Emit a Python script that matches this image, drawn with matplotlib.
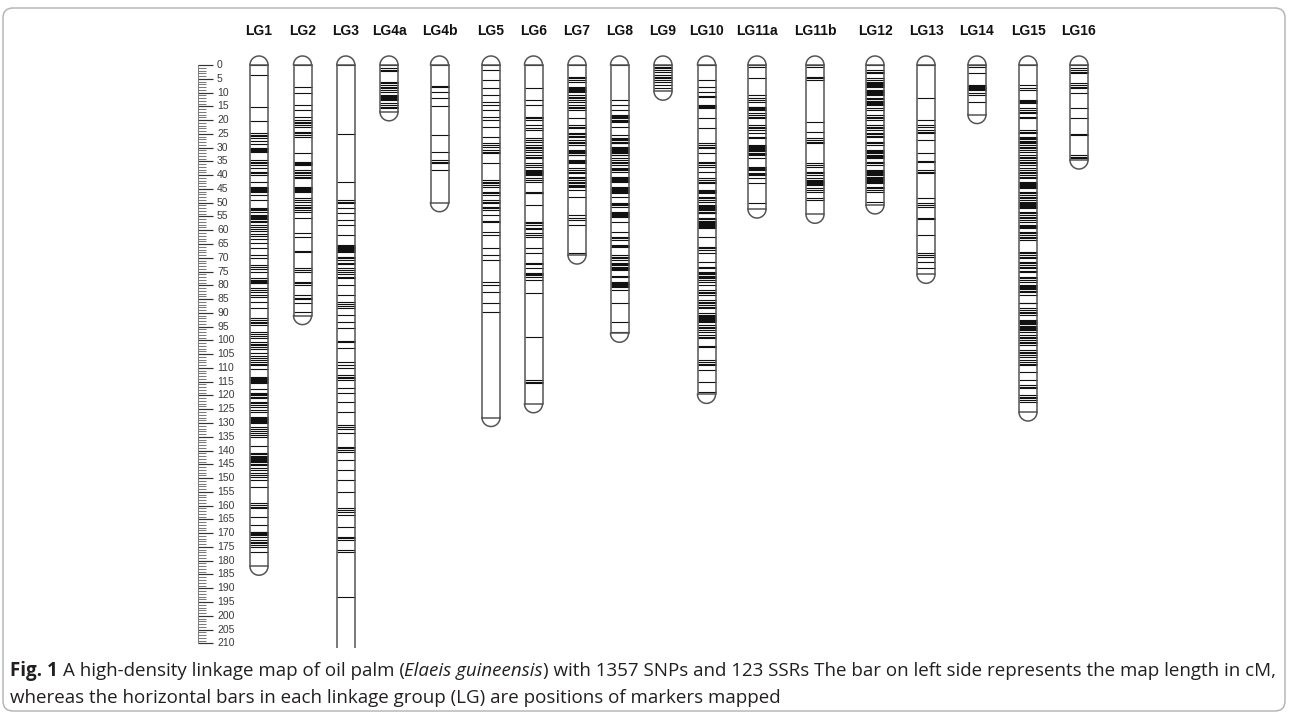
import matplotlib
matplotlib.use("Agg")
import matplotlib.pyplot as plt
import numpy as np
from matplotlib.patches import FancyBboxPatch
from matplotlib.transforms import IdentityTransform

# ---------------- data ----------------
lg_names = ["LG1", "LG2", "LG3", "LG4a", "LG4b", "LG5", "LG6", "LG7", "LG8", "LG9",
            "LG10", "LG11a", "LG11b", "LG12", "LG13", "LG14", "LG15", "LG16"]
# map lengths in cM (LG3 runs past the bottom of the panel)
lg_lengths = [182, 91, 215, 17, 50, 128, 123, 69, 97.4, 9.5,
              119.6, 52.3, 54.2, 50.8, 76, 18, 126, 34.5]

lg1 = [0, 3.6, 15.4, 20.2, 24.8, 25.3, 25.9, 26.6, 27.5, 28.6, 30.3, 30.6, 30.9, 31.2, 31.5,
       34.5, 35.1, 35.7, 36.3, 37.5, 38.7, 39.3, 40.0, 42.4, 44.2, 44.5, 44.8, 45.1, 45.4,
       45.7, 46.0, 47.2, 49.0, 52.0, 52.4, 52.8, 53.2, 54.5, 54.9, 55.3, 55.7, 56.1, 56.5,
       56.9, 58.0, 58.8, 59.6, 60.4, 61.2, 62.0, 63.0, 64.8, 66.6, 69.0, 70.2, 72.6, 73.4,
       74.2, 75.0, 77.5, 77.9, 78.3, 78.7, 79.0, 79.3, 81.0, 81.8, 82.6, 83.5, 84.2, 86.0,
       88.4, 92.0, 92.6, 93.2, 93.8, 94.4, 96.8, 97.6, 98.4, 99.2, 100.5, 101.2, 101.8,
       102.4, 103.0, 104.7, 105.5, 106.3, 107.0, 107.8, 108.5, 109.0, 110.5, 113.2, 113.6,
       114.0, 114.4, 114.8, 115.2, 115.6, 117.5, 119.2, 119.6, 120.0, 120.5, 121.0, 122.2,
       122.9, 123.6, 124.3, 125.1, 125.9, 127.7, 128.1, 128.5, 128.9, 129.3, 129.7, 130.1,
       131.3, 132.0, 132.8, 133.6, 134.3, 135.0, 138.5, 141.0, 141.4, 141.8, 142.2, 142.6,
       143.0, 143.4, 143.8, 144.2, 144.7, 145.2, 146.4, 147.2, 148.0, 148.8, 149.5, 150.7,
       153.1, 159.2, 159.8, 160.4, 161.0, 164.0, 167.0, 169.4, 169.7, 170.0, 170.4, 170.8,
       171.3, 172.5, 173.1, 173.7, 174.3, 174.9, 176.7]
lg2 = [0, 7.9, 10.3, 14.5, 16.3, 18.8, 20.0, 20.6, 21.2, 21.8, 22.4, 24.2, 24.8, 25.4, 26.0,
       32.0, 35.1, 35.5, 35.9, 36.3, 38.1, 38.7, 39.3, 40.0, 40.6, 41.2, 44.2, 44.5, 44.8,
       45.1, 45.4, 45.7, 46.0, 48.4, 49.0, 49.6, 50.8, 51.4, 52.0, 52.6, 53.3, 55.7, 61.1,
       62.3, 67.6, 67.9, 73.8, 74.4, 75.0, 78.7, 79.3, 79.9, 83.5, 84.5, 84.9, 86.5, 89.6]
lg3 = [0, 25.0, 42.4, 49.0, 49.6, 50.2, 52.0, 53.9, 56.3, 58.0, 61.7, 65.4, 65.7, 66.0, 66.3,
       66.6, 66.9, 67.2, 67.5, 67.8, 69.6, 70.2, 70.8, 72.0, 72.2, 73.8, 74.5, 75.2, 76.0,
       76.8, 77.5, 79.9, 83.5, 86.0, 86.8, 87.6, 88.4, 90.8, 93.2, 95.6, 100.3, 100.6, 102.9,
       107.7, 109.0, 110.0, 112.6, 113.2, 113.8, 114.4, 117.4, 119.2, 122.2, 125.9, 130.7,
       131.3, 132.0, 133.7, 138.6, 139.2, 139.8, 140.4, 143.4, 147.0, 150.7, 154.9, 161.0,
       161.6, 162.2, 163.4, 167.6, 171.3, 171.9, 172.5, 176.1, 176.7, 193.1]
lg4a = [0, 1.2, 1.7, 2.2, 6.0, 6.6, 7.3, 7.9, 8.5, 9.1, 9.7, 10.9, 11.2, 11.5, 11.8, 12.1,
        12.4, 12.7, 13.9, 14.5, 15.1, 15.7]
lg4b = [0, 7.5, 7.9, 9.7, 12.1, 14.8, 25.4, 31.5, 34.5, 35.1, 35.7, 38.1]
lg5 = [0, 1.8, 5.4, 8.5, 10.9, 13.3, 14.5, 16.3, 18.8, 20.0, 22.4, 26.0, 28.4, 29.0, 29.6,
       30.9, 31.5, 32.0, 35.7, 41.8, 42.4, 43.0, 43.6, 44.2, 46.0, 46.6, 47.2, 49.0, 49.6,
       50.2, 51.4, 52.0, 52.6, 54.5, 56.8, 57.0, 60.5, 61.7, 66.6, 69.0, 70.8, 78.7, 79.9,
       82.3, 86.5, 89.6]
lg6 = [0, 8.5, 12.7, 14.5, 18.8, 19.4, 20.0, 21.8, 22.7, 23.6, 26.6, 27.2, 27.8, 29.0, 29.6,
       30.3, 30.9, 31.5, 32.7, 33.3, 33.9, 35.7, 36.3, 36.9, 38.1, 38.5, 38.9, 39.3, 39.7,
       40.0, 41.2, 41.8, 42.4, 46.0, 46.3, 46.6, 50.8, 56.9, 57.5, 58.1, 59.1, 59.4, 61.1,
       61.7, 62.3, 66.6, 68.4, 71.8, 72.1, 73.8, 75.6, 76.0, 76.4, 76.8, 78.1, 82.9, 98.6,
       114.4, 115.0, 115.6]
lg7 = [0, 4.2, 4.8, 5.4, 6.0, 7.9, 8.3, 8.7, 9.1, 9.5, 9.7, 10.9, 11.5, 12.1, 12.7, 13.3,
       14.5, 15.1, 15.7, 16.3, 19.4, 21.8, 22.4, 23.0, 24.8, 25.2, 25.6, 26.0, 27.2, 27.8,
       28.4, 29.0, 30.9, 31.3, 31.7, 32.1, 32.5, 32.7, 34.5, 34.9, 35.3, 35.7, 37.5, 38.1,
       38.7, 39.3, 40.5, 41.1, 41.7, 42.4, 43.0, 43.4, 43.8, 44.2, 45.4, 47.8, 54.5, 55.4,
       56.3, 58.1, 68.4]
lg8 = [0, 12.7, 14.5, 16.3, 18.2, 18.6, 19.0, 19.4, 19.8, 20.2, 20.6, 22.4, 25.4, 26.6, 27.0,
       27.4, 27.8, 28.2, 28.4, 29.7, 30.1, 30.5, 30.9, 31.3, 31.7, 32.1, 32.5, 32.7, 33.9,
       34.5, 35.1, 35.7, 36.3, 37.5, 37.9, 38.3, 38.7, 40.5, 40.9, 41.3, 41.7, 42.1, 42.4,
       44.2, 44.6, 45.0, 45.4, 45.8, 46.2, 46.6, 47.8, 50.2, 50.6, 51.0, 51.4, 53.3, 53.7,
       54.1, 54.5, 54.9, 55.1, 56.9, 60.5, 62.3, 62.9, 63.5, 65.4, 65.8, 66.0, 69.0, 69.6,
       70.2, 70.8, 72.0, 72.4, 72.8, 73.2, 73.6, 74.0, 74.4, 76.6, 76.9, 78.7, 79.1, 79.5,
       79.9, 80.3, 80.5, 81.7, 86.5, 93.2, 96.8]
lg9 = [0, 0.6, 1.2, 1.8, 2.4, 3.6, 4.2, 4.8, 5.4, 6.0, 7.3, 8.5]
lg10 = [0, 5.4, 7.9, 9.7, 11.3, 11.6, 14.5, 14.9, 15.3, 15.7, 19.4, 23.0, 28.4, 29.0, 29.6,
        30.3, 32.0, 35.1, 35.7, 36.3, 36.9, 38.7, 41.2, 41.8, 42.4, 43.0, 45.4, 45.8, 46.2,
        46.6, 47.8, 48.4, 49.0, 49.6, 50.8, 51.2, 51.6, 52.0, 52.4, 52.8, 53.2, 53.6, 53.9,
        55.7, 56.1, 56.5, 56.9, 57.3, 57.7, 58.1, 58.5, 58.7, 59.3, 62.3, 66.0, 66.6, 67.2,
        68.4, 71.4, 73.2, 73.8, 75.0, 75.5, 76.0, 76.5, 77.0, 77.5, 78.1, 78.7, 79.9, 81.7,
        82.3, 82.9, 83.5, 85.3, 85.9, 86.5, 87.1, 87.8, 88.4, 90.2, 90.6, 91.0, 91.4, 91.8,
        92.2, 92.6, 93.0, 93.2, 94.4, 95.0, 95.6, 96.2, 96.8, 98.0, 98.6, 99.2, 102.1, 102.5,
        107.1, 107.7, 108.4, 109.0, 110.8, 115.0, 118.6]
lg11a = [0, 0.6, 4.8, 10.9, 12.1, 12.7, 13.3, 15.1, 15.4, 15.7, 16.0, 16.3, 17.6, 18.2, 18.8,
         19.4, 21.8, 22.4, 23.0, 23.6, 24.8, 26.0, 26.6, 29.0, 29.4, 29.8, 30.2, 30.6, 31.0,
         31.4, 31.8, 32.2, 32.7, 33.9, 36.9, 37.3, 37.7, 38.1, 39.3, 39.7, 40.0, 41.2, 43.0,
         50.2]
lg11b = [0, 0.6, 4.2, 4.8, 5.4, 20.6, 24.2, 26.6, 27.2, 27.8, 28.4, 35.7, 36.3, 36.9, 38.7,
         39.3, 40.0, 41.2, 41.6, 42.0, 42.4, 42.8, 43.2, 43.6, 44.8, 45.4, 46.0, 48.4, 49.0]
lg12 = [0, 1.8, 2.4, 3.0, 4.8, 5.4, 6.0, 6.7, 7.0, 7.3, 7.6, 7.9, 9.1, 9.5, 9.9, 10.3, 10.7,
        10.9, 12.1, 12.5, 12.9, 13.3, 13.7, 14.1, 14.5, 15.7, 16.3, 18.2, 18.8, 19.4, 20.0,
        21.8, 22.4, 23.0, 23.6, 24.8, 25.2, 25.6, 26.0, 27.8, 28.4, 29.0, 30.9, 31.3, 31.7,
        32.1, 32.5, 32.9, 33.3, 33.9, 35.1, 35.7, 36.3, 38.1, 38.5, 38.9, 39.3, 39.7, 40.1,
        40.5, 40.9, 41.3, 41.7, 42.1, 42.5, 43.0, 44.2, 44.8, 45.4, 46.0, 49.6]
lg13 = [0, 12.1, 20.0, 21.8, 22.4, 23.6, 24.2, 24.8, 27.2, 32.0, 34.9, 35.2, 38.1, 38.7, 39.3,
        48.4, 50.2, 50.8, 51.4, 55.5, 55.8, 61.7, 68.4, 69.0, 69.6, 71.4, 73.8]
lg14 = [0, 0.6, 3.0, 7.3, 7.6, 7.9, 8.2, 8.5, 8.8, 9.1, 10.3, 10.9, 13.3]
lg15 = [0, 7.3, 8.5, 9.1, 12.7, 13.1, 13.5, 13.9, 15.7, 16.3, 17.0, 17.6, 18.8, 19.4, 23.6,
        24.2, 24.8, 26.0, 26.5, 27.0, 27.5, 28.0, 28.4, 29.0, 29.6, 30.3, 30.9, 31.5, 32.7,
        33.3, 33.9, 34.5, 35.1, 35.7, 36.3, 37.5, 38.1, 38.7, 39.3, 39.9, 40.5, 41.2, 42.4,
        42.8, 43.2, 43.6, 44.0, 44.4, 44.8, 46.0, 46.6, 47.2, 47.8, 48.4, 49.0, 49.6, 50.0,
        50.4, 50.8, 51.2, 51.6, 52.0, 53.3, 53.9, 54.5, 55.1, 55.7, 56.3, 56.9, 58.1, 58.5,
        58.9, 59.3, 60.5, 61.1, 61.7, 62.3, 62.9, 63.5, 67.8, 68.4, 69.0, 69.6, 70.2, 71.4,
        72.0, 72.6, 73.2, 73.8, 74.8, 75.1, 76.8, 77.4, 78.1, 78.7, 79.9, 80.3, 80.7, 81.1,
        81.5, 81.9, 82.3, 83.5, 86.3, 86.6, 88.4, 89.0, 89.6, 90.2, 90.8, 92.6, 93.0, 93.4,
        93.8, 94.2, 94.6, 95.0, 95.4, 95.8, 96.2, 96.8, 98.0, 98.6, 99.2, 99.8, 100.5, 101.1,
        101.7, 103.5, 104.1, 104.7, 105.3, 105.9, 107.1, 107.7, 108.4, 109.0, 111.4, 114.4,
        116.2, 116.8, 117.4, 119.8, 120.4, 121.0, 121.6, 122.2]
lg16 = [0, 1.2, 1.8, 2.4, 3.0, 6.7, 7.3, 7.9, 8.5, 10.3, 15.7, 19.4, 25.2, 25.5, 32.7, 33.3,
        33.9]

lg_markers = [lg1, lg2, lg3, lg4a, lg4b, lg5, lg6, lg7, lg8, lg9,
              lg10, lg11a, lg11b, lg12, lg13, lg14, lg15, lg16]

scale_max = 210
scale_step = 5

caption_bold = "Fig. 1"
caption_a = "A high-density linkage map of oil palm ("
caption_it = "Elaeis guineensis"
caption_b = ") with 1357 SNPs and 123 SSRs The bar on left side represents the map length in cM,"
caption_line2 = "whereas the horizontal bars in each linkage group (LG) are positions of markers mapped"

# ---------------- layout ----------------
W, H, DPI = 1290, 716, 100
lg_x = [259, 302.5, 345.8, 389, 439.5, 491, 533.5, 577, 619.5, 663,
        706.5, 757, 815, 875, 926, 977, 1028, 1079]
PX_PER_CM = 2.754
Y0_PX = 65.0            # pixel row of 0 cM
TOP_PX, BOT_PX = 40.0, 648.0
HALF_W = 9.0            # half chromosome width in px
CAP_R_CM = HALF_W / PX_PER_CM

fig = plt.figure(figsize=(W / DPI, H / DPI), dpi=DPI)
fig.patch.set_facecolor("white")
ax = fig.add_axes([0, 1 - BOT_PX / H, 1, (BOT_PX - TOP_PX) / H])
ax.set_xlim(0, W)
ax.set_ylim((BOT_PX - Y0_PX) / PX_PER_CM, (TOP_PX - Y0_PX) / PX_PER_CM)
ax.axis("off")

outline_c = "#555555"
mark_c = "#111111"
t = np.linspace(0, np.pi, 60)

for name, L, marks, cx in zip(lg_names, lg_lengths, lg_markers, lg_x):
    ax.hlines(marks, cx - HALF_W, cx + HALF_W, colors=mark_c, lw=0.8, zorder=2)
    ax.plot([cx - HALF_W, cx - HALF_W], [0, L], color=outline_c, lw=1.1, zorder=3)
    ax.plot([cx + HALF_W, cx + HALF_W], [0, L], color=outline_c, lw=1.1, zorder=3)
    ax.hlines([0, L], cx - HALF_W, cx + HALF_W, colors=outline_c, lw=1.1, zorder=3)
    ax.plot(cx + HALF_W * np.cos(t), -CAP_R_CM * np.sin(t), color=outline_c, lw=1.1, zorder=3)
    ax.plot(cx + HALF_W * np.cos(t), L + CAP_R_CM * np.sin(t), color=outline_c, lw=1.1, zorder=3)
    ax.text(cx, (31 - Y0_PX) / PX_PER_CM, name, ha="center", va="center",
            fontsize=10, fontweight="bold", family=["Liberation Sans", "DejaVu Sans"],
            color="#111111")

# ruler
ticks = np.arange(0, scale_max + 1, 1)
minor = ticks[ticks % scale_step != 0]
major = ticks[ticks % scale_step == 0]
ax.hlines(minor, 198, 206, colors="#7a7a7a", lw=0.75)
ax.hlines(major, 198, 213, colors="#333333", lw=0.85)
ax.plot([198, 198], [0, scale_max], color="#7a7a7a", lw=0.7)
for v in major:
    ax.text(217, v, str(v), ha="left", va="center", fontsize=7.5,
            family=["Liberation Sans", "DejaVu Sans"], color="#3a3a3a")

# frame
frame = FancyBboxPatch((3, 5), 1282, 703, boxstyle="round,pad=0,rounding_size=10",
                       transform=IdentityTransform(), fill=False, ec="#b0b0b0", lw=1.0)
fig.add_artist(frame)

# caption
fig.canvas.draw()
renderer = fig.canvas.get_renderer()
cap_family = ["Liberation Sans Narrow", "Open Sans", "DejaVu Sans"]
cap_color = "#231f20"


def text_w(s, size, **kw):
    tt = fig.text(0, 0, s, fontsize=size, family=cap_family, **kw)
    w = tt.get_window_extent(renderer).width
    tt.remove()
    return w


def line1_pieces():
    return [(caption_bold, dict(fontweight="bold")),
            (caption_a, {}),
            (caption_it, dict(fontstyle="italic")),
            (caption_b, {})]


def run(pieces, x0, ybase, size, draw=True):
    x = x0
    sp = text_w("a a", size) - text_w("aa", size)
    for i, (s, kw) in enumerate(pieces):
        w = text_w(s, size, **kw)
        if draw:
            fig.text(x / W, 1 - ybase / H, s, fontsize=size, family=cap_family,
                     color=cap_color, ha="left", va="baseline", **kw)
        x += w
        if i == 0:
            x += sp
    return x


base_size = 10.0
end = run(line1_pieces(), 10, 676, base_size, draw=False)
size = base_size * (1281 - 10) / (end - 10)
run(line1_pieces(), 10, 676, size)
fig.text(10 / W, 1 - 703 / H, caption_line2, fontsize=size, family=cap_family,
         color=cap_color, ha="left", va="baseline")

fig.savefig("out.png", dpi=DPI, facecolor="white")
